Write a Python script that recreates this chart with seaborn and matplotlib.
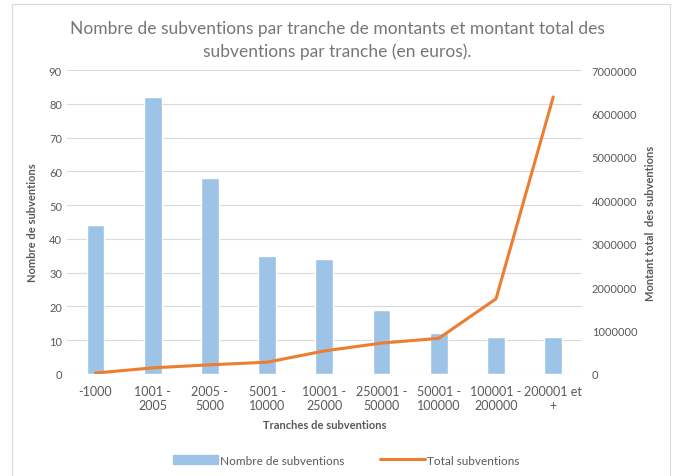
import matplotlib
matplotlib.use('Agg')
import matplotlib.pyplot as plt
import seaborn as sns
import pandas as pd
from matplotlib.patches import Rectangle
from matplotlib.lines import Line2D

tranches = ['-1000', '1001 -\n2005', '2005 -\n5000', '5001 -\n10000', '10001 -\n25000',
            '250001 -\n50000', '50001 -\n100000', '100001 -\n200000', '200001 et\n+']
nombre = [44, 82, 58, 35, 34, 19, 12, 11, 11]
total = [20000, 140000, 210000, 270000, 530000, 710000, 820000, 1730000, 6380000]

data = pd.DataFrame({'Tranche': tranches, 'Nombre': nombre, 'Total': total})

sns.set_style('white')
plt.rcParams['font.family'] = ['Lato', 'DejaVu Sans']
grey = '#595959'
bar_color = '#9DC3E6'
line_color = '#ED7D31'

fig = plt.figure(figsize=(6.75, 4.77), dpi=100)
ax = fig.add_axes([0.099, 0.214, 0.763, 0.637])

sns.barplot(x='Tranche', y='Nombre', data=data, color=bar_color, width=0.31,
            saturation=1, ax=ax, zorder=2)
ax.set_ylim(0, 90)
ax.set_yticks(range(0, 91, 10))
ax.yaxis.grid(True, color='#D9D9D9', linewidth=0.8, zorder=0)
ax.set_axisbelow(True)
for s in ax.spines.values():
    s.set_visible(False)
ax.tick_params(axis='both', length=0, colors=grey, labelsize=8)
ax.tick_params(axis='x', labelsize=9, pad=8)
ax.set_xlabel('Tranches de subventions', color=grey, fontsize=8, fontweight='bold', labelpad=6)
ax.set_ylabel('Nombre de subventions', color=grey, fontsize=8, fontweight='bold', labelpad=8)

ax2 = ax.twinx()
sns.lineplot(x=list(range(len(tranches))), y=total, color=line_color, linewidth=2.2, ax=ax2)
ax2.set_ylim(0, 7000000)
ax2.set_yticks(range(0, 7000001, 1000000))
ax2.set_yticklabels([str(v) for v in range(0, 7000001, 1000000)])
ax2.set_xlim(-0.5, len(tranches) - 0.5)
ax.set_xlim(-0.5, len(tranches) - 0.5)
for s in ax2.spines.values():
    s.set_visible(False)
ax2.tick_params(axis='y', length=0, colors=grey, labelsize=8, pad=7)
ax2.set_ylabel('Montant total  des subventions', color=grey, fontsize=8,
               fontweight='bold', labelpad=6)

fig.suptitle('Nombre de subventions par tranche de montants et montant total des\n'
             'subventions par tranche (en euros).', color='#767676', fontsize=12.5,
             y=0.955, linespacing=1.45)

handles = [Rectangle((0, 0), 1, 1, color=bar_color),
           Line2D([0], [0], color=line_color, linewidth=2.2)]
fig.legend(handles, ['Nombre de subventions', 'Total subventions'], loc='center',
           bbox_to_anchor=(0.513, 0.033), ncol=2, frameon=False, fontsize=8.5,
           labelcolor=grey, handlelength=3.8, handleheight=0.8, columnspacing=3, handletextpad=0.2)

fig.patches.append(Rectangle((12 / 675, -0.01), 658 / 675, 1 - 5 / 477 + 0.01,
                             transform=fig.transFigure, fill=False,
                             edgecolor='#D9D9D9', linewidth=0.8))

plt.savefig('out.png', dpi=100)
